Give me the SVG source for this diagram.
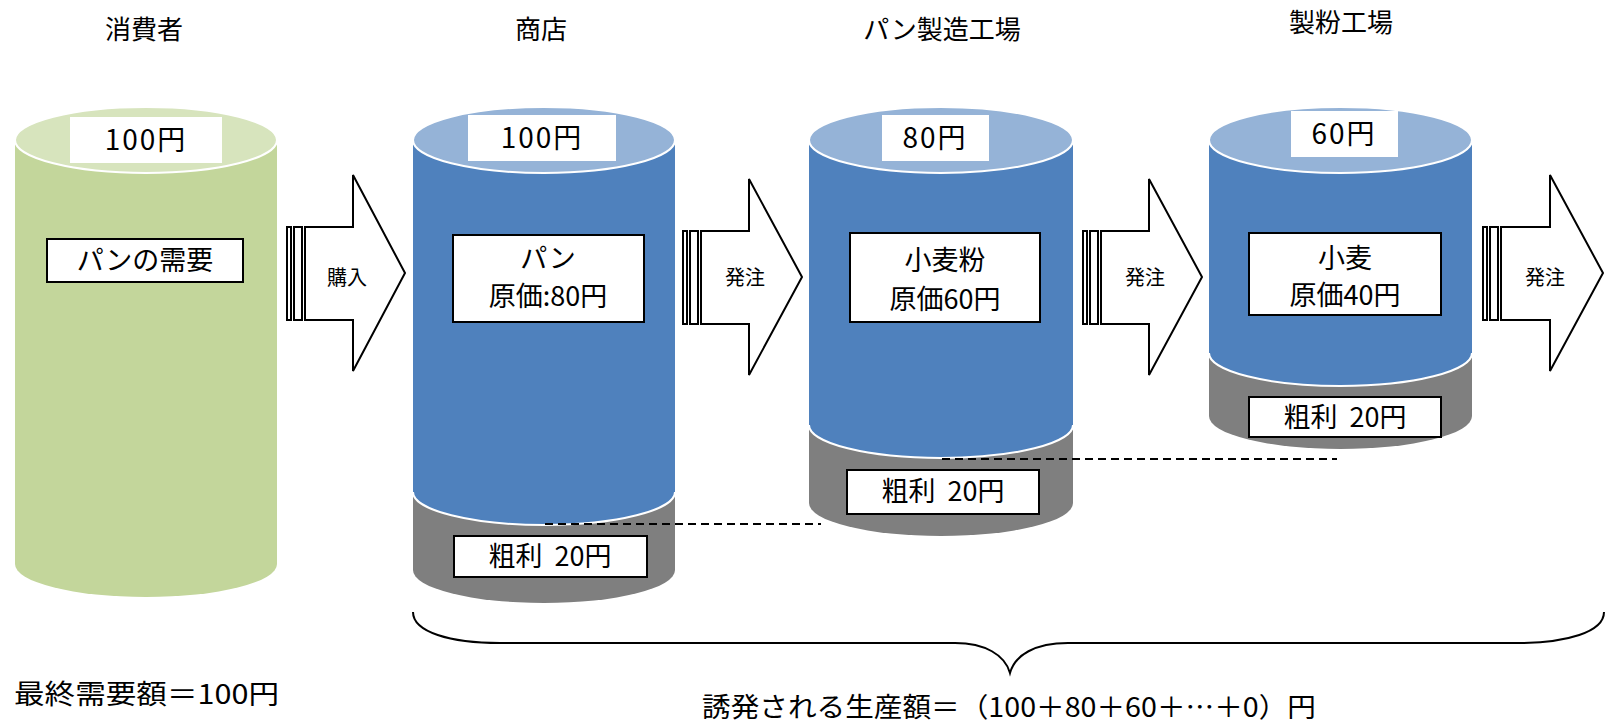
<svg xmlns="http://www.w3.org/2000/svg" width="1606" height="724" viewBox="0 0 1606 724">
<style>
text{font-family:"Noto Sans CJK JP","Noto Sans",sans-serif;fill:#000;text-anchor:middle}
.h{font-size:26px}
.v{font-size:28px}
.l{font-size:27px}
.a{font-size:20px}
.green{fill:#C3D69B}
.greentop{fill:#D7E4BD;stroke:#fff;stroke-width:2}
.blue{fill:#4F81BD}
.bluetop{fill:#95B3D7;stroke:#fff;stroke-width:2}
.gray{fill:#7F7F7F}
.edge{fill:none;stroke:#fff;stroke-width:2}
.wb{fill:#fff}
.box{fill:#fff;stroke:#000;stroke-width:2}
.arr{fill:#fff;stroke:#000;stroke-width:2;stroke-linejoin:miter}
.dash{stroke:#000;stroke-width:2;stroke-dasharray:8 5;fill:none}
.brace{fill:none;stroke:#000;stroke-width:2}
</style>

<g id="headers">
<text class="h" x="144" y="39">消費者</text>
<text class="h" x="541" y="39">商店</text>
<text class="h" x="942" y="39">パン製造工場</text>
<text class="h" x="1341" y="32">製粉工場</text>
</g>

<g id="consumer">
<path class="green" d="M15,140 L15,564 A131,33 0 0 0 277,564 L277,140 Z"/>
<ellipse class="greentop" cx="146" cy="140" rx="131" ry="33"/>
<rect class="wb" x="70" y="117" width="152" height="46"/>
<text class="v" x="146" y="150" letter-spacing="2">100円</text>
<rect class="box" x="47" y="239" width="196" height="43"/>
<text class="l" x="145" y="270">パンの需要</text>
</g>

<g id="store">
<path class="gray" d="M413,492 L413,570 A131,33 0 0 0 675,570 L675,492 Z"/>
<path class="blue" d="M413,140 L413,492 A131,33 0 0 0 675,492 L675,140 Z"/>
<path class="edge" d="M413,492 A131,33 0 0 0 675,492"/>
<ellipse class="bluetop" cx="544" cy="140" rx="131" ry="33"/>
<rect class="wb" x="468" y="115" width="148" height="46"/>
<text class="v" x="542" y="148" letter-spacing="2">100円</text>
<rect class="box" x="453" y="235" width="191" height="87"/>
<text class="l" x="548" y="268">パン</text>
<text class="l" x="548" y="306">原価:80円</text>
<rect class="box" x="454" y="536" width="193" height="41"/>
<text class="l" x="550" y="566">粗利 <tspan dx="6">20円</tspan></text>
</g>

<g id="bread-factory">
<path class="gray" d="M809,425 L809,503 A132,33 0 0 0 1073,503 L1073,425 Z"/>
<path class="blue" d="M809,140 L809,425 A132,33 0 0 0 1073,425 L1073,140 Z"/>
<path class="edge" d="M809,425 A132,33 0 0 0 1073,425"/>
<ellipse class="bluetop" cx="941" cy="140" rx="132" ry="33"/>
<rect class="wb" x="882" y="115" width="107" height="46"/>
<text class="v" x="935" y="148" letter-spacing="2">80円</text>
<rect class="box" x="850" y="233" width="190" height="89"/>
<text class="l" x="945" y="270">小麦粉</text>
<text class="l" x="945" y="309">原価60円</text>
<rect class="box" x="847" y="470" width="192" height="44"/>
<text class="l" x="943" y="501">粗利 <tspan dx="6">20円</tspan></text>
</g>

<g id="mill">
<path class="gray" d="M1209,353 L1209,416 A131.5,33 0 0 0 1472,416 L1472,353 Z"/>
<path class="blue" d="M1209,140 L1209,353 A131.5,33 0 0 0 1472,353 L1472,140 Z"/>
<path class="edge" d="M1209,353 A131.5,33 0 0 0 1472,353"/>
<ellipse class="bluetop" cx="1340.5" cy="140" rx="131.5" ry="33"/>
<rect class="wb" x="1291" y="111" width="107" height="46"/>
<text class="v" x="1344" y="144" letter-spacing="2">60円</text>
<rect class="box" x="1249" y="233" width="192" height="82"/>
<text class="l" x="1345" y="268">小麦</text>
<text class="l" x="1345" y="305">原価40円</text>
<rect class="box" x="1249" y="397" width="192" height="40"/>
<text class="l" x="1345" y="427">粗利 <tspan dx="6">20円</tspan></text>
</g>

<g id="connectors">
<g id="arrow-buy">
<rect class="arr" x="287" y="227" width="4" height="93"/>
<rect class="arr" x="294" y="227" width="8" height="93"/>
<path class="arr" d="M305,227 L353,227 L353,175 L405,273 L353,371 L353,320 L305,320 Z"/>
<text class="a" x="347" y="285">購入</text>
</g>
<g id="arrow-order1">
<rect class="arr" x="683" y="231" width="4" height="93"/>
<rect class="arr" x="690" y="231" width="8" height="93"/>
<path class="arr" d="M701,231 L749,231 L749,179 L802,277 L749,375 L749,324 L701,324 Z"/>
<text class="a" x="745" y="285">発注</text>
</g>
<g id="arrow-order2">
<rect class="arr" x="1083" y="231" width="4" height="93"/>
<rect class="arr" x="1090" y="231" width="8" height="93"/>
<path class="arr" d="M1101,231 L1149,231 L1149,179 L1202,277 L1149,375 L1149,324 L1101,324 Z"/>
<text class="a" x="1145" y="285">発注</text>
</g>
<g id="arrow-order3">
<rect class="arr" x="1483" y="227" width="4" height="93"/>
<rect class="arr" x="1490" y="227" width="8" height="93"/>
<path class="arr" d="M1501,227 L1550,227 L1550,175 L1603,273 L1550,371 L1550,320 L1501,320 Z"/>
<text class="a" x="1545" y="285">発注</text>
</g>
<path class="dash" d="M545,524 L821,524"/>
<path class="dash" d="M942,459 L1337,459"/>
<path class="brace" d="M413,612 C413,632 450,643 500,643 L955,643 C985,643 1005,655 1010,673 C1015,655 1035,643 1068,643 L1517,643 C1567,643 1604,632 1604,612"/>
</g>

<g id="totals">
<text class="l" x="14" y="704" style="text-anchor:start" textLength="265" lengthAdjust="spacingAndGlyphs">最終需要額＝100円</text>
<text class="l" x="702" y="717" style="text-anchor:start" textLength="614" lengthAdjust="spacingAndGlyphs">誘発される生産額＝（100＋80＋60＋…＋0）円</text>
</g>
</svg>
